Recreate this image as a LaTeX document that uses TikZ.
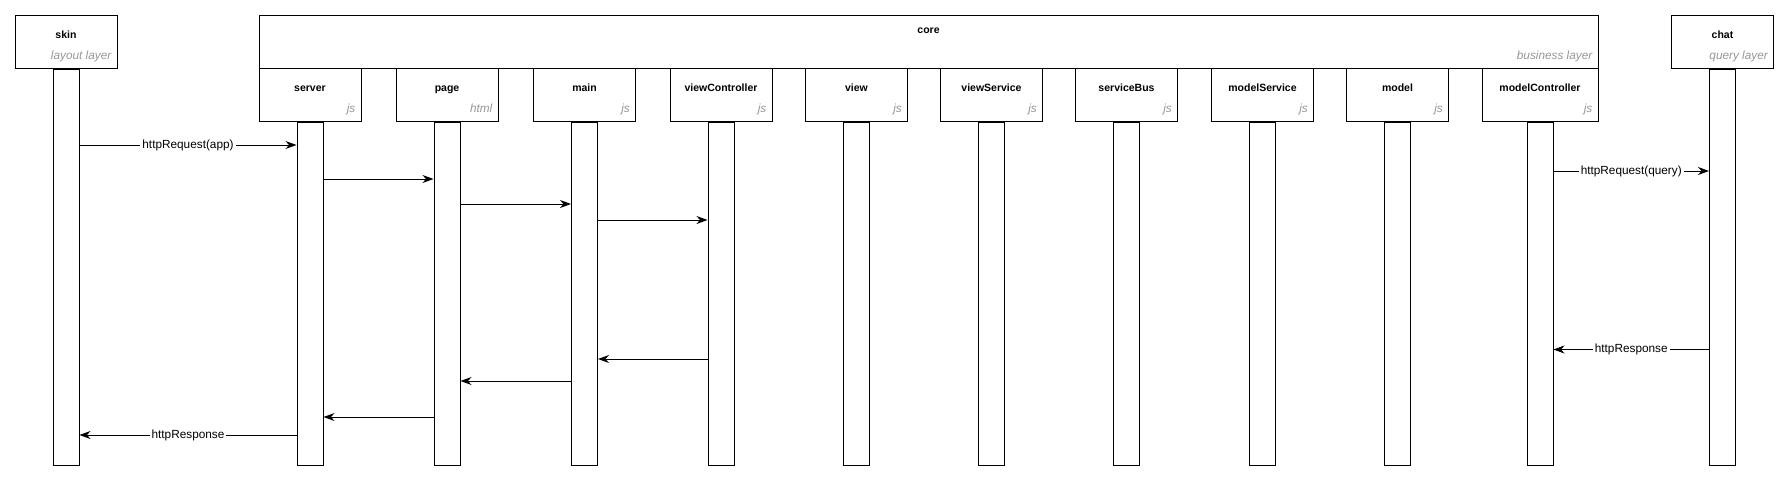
\documentclass[tikz,border=0pt]{standalone}
\usepackage{fontspec}
\setmainfont{Liberation Sans}
\usetikzlibrary{positioning,arrows.meta}
\definecolor{layergray}{RGB}{150,150,150}
\tikzset{
  head/.style={draw, line width=1pt, minimum width=102pt, minimum height=53pt, inner sep=0pt},
  lifeline/.style={draw, fill=white, line width=1pt, minimum width=26pt, inner sep=0pt, node distance=0pt},
  headtitle/.style={font=\fontsize{10.5}{13}\selectfont\bfseries, anchor=base, inner sep=0pt},
  headlayer/.style={font=\fontsize{11.8}{13}\selectfont\itshape, text=layergray, anchor=base east, inner sep=0pt},
  msg/.style={line width=1pt, -{Stealth[length=11pt, width=8pt, inset=3.5pt]}},
  msglabel/.style={fill=white, font=\fontsize{11.8}{13}\selectfont, inner sep=2pt}
}
\begin{document}
\begin{tikzpicture}[x=1pt, y=-1pt]
    \useasboundingbox (0, 0) rectangle (1789, 479);

    \node[head] (skin) at (66, 41.5) {};
    \node[headtitle] (skin-t) at ([yshift=-23.5pt]skin.north) {skin};
    \node[headlayer] (skin-s) at ([xshift=-6pt, yshift=9pt]skin.south east) {layout layer};
    \node[lifeline, minimum height=396pt, below=of skin] (skin-l) {};

    \node[head, minimum width=1339pt] (core) at (928.5, 41.5) {};
    \node[headtitle] (core-t) at ([yshift=-19.5pt]core.north) {core};
    \node[headlayer] (core-s) at ([xshift=-6pt, yshift=9pt]core.south east) {business layer};

    \node[head] (chat) at (1722.5, 41.5) {};
    \node[headtitle] (chat-t) at ([yshift=-23.5pt]chat.north) {chat};
    \node[headlayer] (chat-s) at ([xshift=-6pt, yshift=9pt]chat.south east) {query layer};
    \node[lifeline, minimum height=396pt, below=of chat] (chat-l) {};

    \foreach \n/\s/\x/\w in {server/js/310/102pt, page/html/447/102pt, main/js/584.5/102pt,
        viewController/js/721/102pt, view/js/856.5/102pt, viewService/js/991.5/102pt,
        serviceBus/js/1126.5/102pt, modelService/js/1262.5/102pt, model/js/1397.5/102pt,
        modelController/js/1540/116pt} {
      \node[head, minimum width=\w] (\n) at (\x, 94.5) {};
      \node[headtitle] (\n-t) at ([yshift=-23.5pt]\n.north) {\n};
      \node[headlayer] (\n-s) at ([xshift=-6pt, yshift=9pt]\n.south east) {\s};
      \node[lifeline, minimum height=343pt, below=of \n] (\n-l) {};
    }

    \coordinate (m1) at (0, 145);
    \coordinate (m2) at (0, 171);
    \coordinate (m3) at (0, 179);
    \coordinate (m4) at (0, 204);
    \coordinate (m5) at (0, 220);
    \coordinate (m6) at (0, 349.5);
    \coordinate (m7) at (0, 359);
    \coordinate (m8) at (0, 381);
    \coordinate (m9) at (0, 417);
    \coordinate (m10) at (0, 435);

    \draw[msg] (skin-l.east |- m1) -- node[msglabel] (m1-t) {httpRequest(app)} (server-l.west |- m1);
    \draw[msg] (modelController-l.east |- m2) -- node[msglabel] (m2-t) {httpRequest(query)} (chat-l.west |- m2);
    \draw[msg] (server-l.east |- m3) -- (page-l.west |- m3);
    \draw[msg] (page-l.east |- m4) -- (main-l.west |- m4);
    \draw[msg] (main-l.east |- m5) -- (viewController-l.west |- m5);
    \draw[msg] (chat-l.west |- m6) -- node[msglabel] (m6-t) {httpResponse} (modelController-l.east |- m6);
    \draw[msg] (viewController-l.west |- m7) -- (main-l.east |- m7);
    \draw[msg] (main-l.west |- m8) -- (page-l.east |- m8);
    \draw[msg] (page-l.west |- m9) -- (server-l.east |- m9);
    \draw[msg] (server-l.west |- m10) -- node[msglabel] (m10-t) {httpResponse} (skin-l.east |- m10);
  \end{tikzpicture}
\end{document}
